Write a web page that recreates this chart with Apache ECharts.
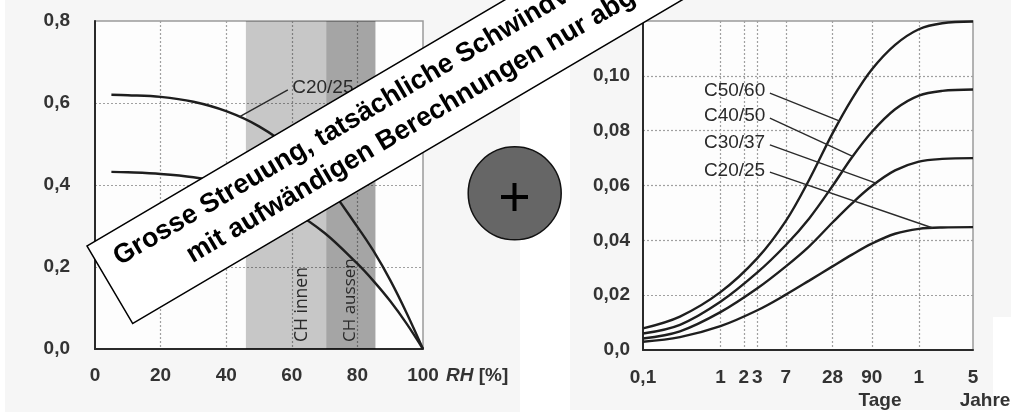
<!DOCTYPE html>
<html>
<head>
<meta charset="utf-8">
<script src="https://cdn.jsdelivr.net/npm/echarts@6/dist/echarts.min.js"></script>
<style>
  html, body { margin: 0; padding: 0; background: #fff; }
  #chart { width: 1011px; height: 419px; }
</style>
</head>
<body>
<div id="chart"></div>
<script>
// links: Schwindbeiwert über relative Luftfeuchte
const rhValues = [5, 10, 20, 30, 40, 50, 60, 70, 80, 85, 90, 95, 100];
const rhC2025 = [0.620, 0.619, 0.615, 0.603, 0.580, 0.543, 0.487, 0.408, 0.298, 0.238, 0.168, 0.088, 0];
const rhC5060 = [0.432, 0.431, 0.427, 0.419, 0.404, 0.378, 0.338, 0.283, 0.208, 0.165, 0.117, 0.062, 0];
const bandInnen = [46, 70.5];
const bandAussen = [70.5, 85.5];
const leaderLeft = { name: 'C20/25', from: [44, 0.566], to: [58.8, 0.632] };

// rechts: Schwindverlauf über die Zeit (Tage, log)
const days = [0.1, 0.3, 1, 3, 7, 14, 28, 50, 90, 180, 365, 730, 1825];
const c5060 = [0.0079, 0.0122, 0.0211, 0.0335, 0.0471, 0.0621, 0.079, 0.0916, 0.1023, 0.1113, 0.117, 0.1192, 0.1198];
const c4050 = [0.006, 0.0092, 0.0176, 0.0283, 0.0383, 0.048, 0.0598, 0.0703, 0.0795, 0.0878, 0.0928, 0.0945, 0.095];
const c3037 = [0.0042, 0.0068, 0.0138, 0.0225, 0.0305, 0.0378, 0.0465, 0.0535, 0.0598, 0.0655, 0.0687, 0.0697, 0.070];
const c2025 = [0.003, 0.0047, 0.0087, 0.0145, 0.0202, 0.0253, 0.0305, 0.0348, 0.0388, 0.0424, 0.0442, 0.0447, 0.0448];
const dayTicks = [0.1, 1, 2, 3, 7, 28, 90, 365, 1825];
const dayTickLabels = ['0,1', '1', '2', '3', '7', '28', '90', '1', '5'];
const leaderRight = [
  { name: 'C50/60', from: [4.35, 0.0937], to: [34.8, 0.0835] },
  { name: 'C40/50', from: [4.35, 0.0846], to: [51, 0.0706] },
  { name: 'C30/37', from: [4.35, 0.0748], to: [104, 0.0608] },
  { name: 'C20/25', from: [4.35, 0.0649], to: [552, 0.0445] }
];

const font = '"Liberation Sans", Arial, sans-serif';
const gridLine = { color: '#a0a0a0', width: 1.2, type: [2, 2] };
const labelStyle = { color: '#333', fontSize: 19, fontWeight: 'bold', fontFamily: font };

function pairs(xs, ys) {
  return xs.map((x, i) => [x, ys[i]]);
}

function curve(name, xi, xs, ys, extra) {
  return Object.assign({
    name: name,
    type: 'line',
    xAxisIndex: xi,
    yAxisIndex: xi,
    data: pairs(xs, ys),
    smooth: 0.35,
    showSymbol: false,
    lineStyle: { color: '#1e1e1e', width: 2.4 },
    z: 3
  }, extra || {});
}

function leader(l, pos) {
  return {
    silent: true,
    symbol: ['none', 'none'],
    lineStyle: { color: '#2a2a2a', width: 1.4, type: 'solid' },
    label: { show: true, position: pos, formatter: l.name, color: '#2a2a2a', fontSize: 19, fontFamily: font, distance: 5 },
    data: [[{ coord: l.from }, { coord: l.to }]]
  };
}

const chart = echarts.init(document.getElementById('chart'));

chart.setOption({
  animation: false,
  backgroundColor: '#fff',
  grid: [
    { left: 95, right: 588, top: 21, bottom: 70, show: true, backgroundColor: '#fdfdfd', borderColor: '#9a9a9a', borderWidth: 1.5 },
    { left: 643, right: 38, top: 21, bottom: 69, show: true, backgroundColor: '#fdfdfd', borderColor: '#9a9a9a', borderWidth: 1.5 }
  ],
  xAxis: [
    {
      gridIndex: 0, type: 'value', min: 0, max: 100, interval: 20,
      axisLine: { onZero: false, lineStyle: { color: '#2a2a2a', width: 2 } },
      axisTick: { show: false },
      axisLabel: Object.assign({ margin: 17 }, labelStyle),
      splitLine: { show: true, showMinLine: false, showMaxLine: false, lineStyle: gridLine }
    },
    {
      gridIndex: 1, type: 'log', logBase: 10, min: 0.1, max: 1825,
      axisLine: { onZero: false, lineStyle: { color: '#2a2a2a', width: 2 } },
      axisTick: { show: false, customValues: dayTicks },
      axisLabel: Object.assign({
        margin: 18,
        customValues: dayTicks,
        formatter: function (v) {
          const i = dayTicks.findIndex(d => Math.abs(d - v) / d < 1e-6);
          return i < 0 ? '' : dayTickLabels[i];
        }
      }, labelStyle),
      splitLine: { show: true, showMinLine: false, showMaxLine: false, lineStyle: gridLine },
      minorTick: { show: false },
      minorSplitLine: { show: false }
    }
  ],
  yAxis: [
    {
      gridIndex: 0, type: 'value', min: 0, max: 0.8, interval: 0.2,
      axisLine: { show: true, onZero: false, lineStyle: { color: '#2a2a2a', width: 2 } },
      axisTick: { show: false },
      axisLabel: Object.assign({ margin: 25, formatter: v => v.toFixed(1).replace('.', ',') }, labelStyle),
      splitLine: { show: true, showMinLine: false, showMaxLine: false, lineStyle: gridLine }
    },
    {
      gridIndex: 1, type: 'value', min: 0, max: 0.12, interval: 0.02,
      axisLine: { show: true, onZero: false, lineStyle: { color: '#2a2a2a', width: 2 } },
      axisTick: { show: false },
      axisLabel: Object.assign({
        margin: 13,
        formatter: v => v === 0 ? '0,0' : (v > 0.11 ? '' : v.toFixed(2).replace('.', ','))
      }, labelStyle),
      splitLine: { show: true, showMinLine: false, showMaxLine: false, lineStyle: gridLine }
    }
  ],
  series: [
    curve('C20/25', 0, rhValues, rhC2025, {
      markArea: {
        silent: true,
        data: [
          [{ xAxis: bandInnen[0], itemStyle: { color: 'rgba(0,0,0,0.21)' } }, { xAxis: bandInnen[1] }],
          [{ xAxis: bandAussen[0], itemStyle: { color: 'rgba(0,0,0,0.35)' } }, { xAxis: bandAussen[1] }]
        ]
      },
      markLine: leader(leaderLeft, 'end')
    }),
    curve('C50/60', 0, rhValues, rhC5060),
    curve('C50/60 t', 1, days, c5060, { markLine: leader(leaderRight[0], 'start') }),
    curve('C40/50 t', 1, days, c4050, { markLine: leader(leaderRight[1], 'start') }),
    curve('C30/37 t', 1, days, c3037, { markLine: leader(leaderRight[2], 'start') }),
    curve('C20/25 t', 1, days, c2025, { markLine: leader(leaderRight[3], 'start') })
  ],
  graphic: [
    { type: 'rect', z: -10, silent: true, shape: { x: 5, y: 0, width: 515, height: 412 }, style: { fill: '#f6f6f6' } },
    { type: 'rect', z: -10, silent: true, shape: { x: 570, y: 0, width: 441, height: 410 }, style: { fill: '#f6f6f6' } },
    { type: 'rect', z: -9, silent: true, shape: { x: 993, y: 317, width: 18, height: 102 }, style: { fill: '#fff' } },
    {
      type: 'text', z: 20, x: 446, y: 376,
      style: {
        text: '{i|RH} [%]', fill: '#333', fontSize: 19, fontWeight: 'bold', fontFamily: font, textVerticalAlign: 'middle',
        rich: { i: { fontStyle: 'italic', fontWeight: 'bold', fontSize: 19, fontFamily: font, fill: '#333' } }
      }
    },
    { type: 'text', z: 20, x: 880, y: 401, style: { text: 'Tage', fill: '#333', fontSize: 19, fontWeight: 'bold', fontFamily: font, textAlign: 'center', textVerticalAlign: 'middle' } },
    { type: 'text', z: 20, x: 985, y: 401, style: { text: 'Jahre', fill: '#333', fontSize: 19, fontWeight: 'bold', fontFamily: font, textAlign: 'center', textVerticalAlign: 'middle' } },
    { type: 'text', z: 20, x: 302.5, y: 342, rotation: Math.PI / 2, style: { text: 'CH innen', fill: '#2a2a2a', fontSize: 17.5, fontFamily: '"Open Sans", sans-serif', textAlign: 'left', textVerticalAlign: 'middle' } },
    { type: 'text', z: 20, x: 350.5, y: 342, rotation: Math.PI / 2, style: { text: 'CH aussen', fill: '#2a2a2a', fontSize: 17, fontFamily: '"Open Sans", sans-serif', textAlign: 'left', textVerticalAlign: 'middle' } },
    { type: 'circle', z: 50, shape: { cx: 514.7, cy: 193.3, r: 46.5 }, style: { fill: '#666', stroke: '#111', lineWidth: 1.5 } },
    { type: 'rect', z: 51, shape: { x: 501, y: 195, width: 27, height: 4 }, style: { fill: '#000' } },
    { type: 'rect', z: 51, shape: { x: 512.5, y: 183, width: 4, height: 28 }, style: { fill: '#000' } },
    {
      type: 'group', z: 100, x: 87, y: 246, rotation: 30.5 * Math.PI / 180,
      children: [
        { type: 'rect', z: 100, shape: { x: 0, y: 0, width: 820, height: 90 }, style: { fill: '#fff', stroke: '#000', lineWidth: 1.5 } },
        { type: 'text', z: 101, x: 18, y: 26, style: { text: 'Grosse Streuung, tatsächliche Schwindverkürzung', fill: '#000', fontSize: 27, fontWeight: 'bold', fontFamily: font, textVerticalAlign: 'middle' } },
        { type: 'text', z: 101, x: 82, y: 61, style: { text: 'mit aufwändigen Berechnungen nur abgeschätzt', fill: '#000', fontSize: 27, fontWeight: 'bold', fontFamily: font, textVerticalAlign: 'middle' } }
      ]
    }
  ]
});
</script>
</body>
</html>
